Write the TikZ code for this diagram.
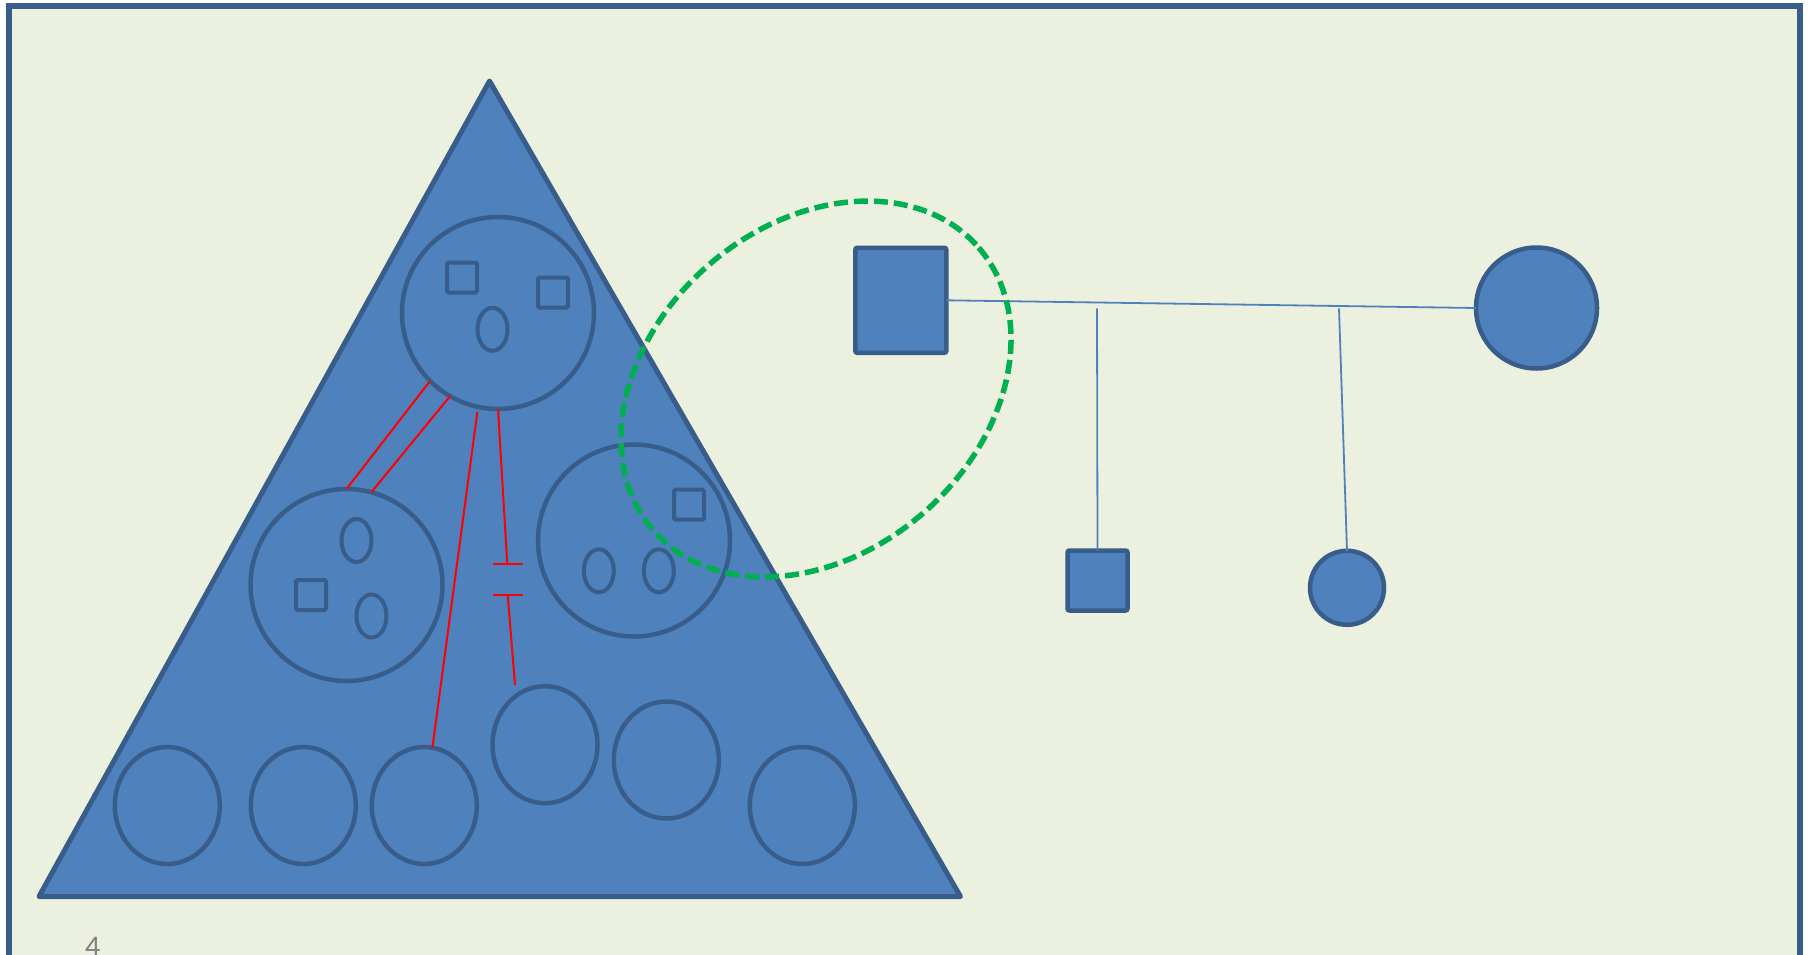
\documentclass[tikz,border=0pt]{standalone}
\usepackage{fontspec}
\setmainfont{Carlito}
\usetikzlibrary{shapes.geometric}
\definecolor{bg}{HTML}{EBF1DE}
\definecolor{nfill}{HTML}{4F81BD}
\definecolor{nline}{HTML}{385D8A}
\definecolor{gdash}{HTML}{00B050}
\definecolor{numgray}{HTML}{808080}
\begin{document}
\begin{tikzpicture}[x=1pt,y=-1pt,
 member/.style={draw=nline,fill=nfill,line width=4.5pt,inner sep=0pt,outer sep=0pt},
 bigcirc/.style={member,circle,minimum size=192pt},
 oval/.style={member,ellipse,minimum width=105pt,minimum height=117pt},
 smalloval/.style={member,ellipse,minimum width=30pt,minimum height=43pt,line width=4pt},
 smallsq/.style={member,rectangle,rounded corners=1.5pt,minimum size=30pt,line width=4pt},
 tie/.style={red,line width=2pt},
 link/.style={nfill,line width=1.8pt},
 groupring/.style={gdash,line width=5.5pt,dash pattern=on 14pt off 6pt},
]
\clip (0,0) rectangle (1812,955);
\fill[white] (0,0) rectangle (1812,955);
\draw[nline, fill=bg, line width=5.5pt] (9,5.8) rectangle (1800,1000);

% triangle
\coordinate (apex) at (489.5,81);
\coordinate (bl) at (39,896.5);
\coordinate (br) at (960.5,896.5);
\draw[member, line width=5pt, line join=round] (apex) -- (br) -- (bl) -- cycle;

% big circles
\node[bigcirc] (T) at (498,313) {};
\node[bigcirc] (L) at (346.5,585) {};
\node[bigcirc] (M) at (634,540.5) {};

% inner symbols
\node[smallsq] (t1) at (462,277.5) {};
\node[smallsq] (t2) at (553,292.5) {};
\node[smalloval] (t3) at (492.5,329.3) {};
\node[smalloval] (l1) at (356.5,540.5) {};
\node[smallsq] (l2) at (311,595) {};
\node[smalloval] (l3) at (371.5,616) {};
\node[smallsq] (m1) at (689,504.7) {};
\node[smalloval] (m2) at (598.8,570.8) {};
\node[smalloval] (m3) at (658.8,570.8) {};

% bottom ovals
\node[oval] (b1) at (167.3,805.5) {};
\node[oval] (b2) at (303.3,805.5) {};
\node[oval] (b3) at (424.3,805.5) {};
\node[oval] (b4) at (545,744.7) {};
\node[oval] (b5) at (666.3,760) {};
\node[oval] (b6) at (802.3,805.5) {};

% red ties
\coordinate (g1) at (507.3,564.3);
\coordinate (g1l) at (492.7,564.3);
\coordinate (g1r) at (522.7,564.3);
\coordinate (g2) at (507.7,595);
\coordinate (g2l) at (492.7,595);
\coordinate (g2r) at (522.7,595);
\coordinate (g4end) at (515,685);
\draw[tie] (T.225) -- (L.90);
\draw[tie] (T.240) -- (L.75);
\draw[tie, shorten <=5pt] (T.258) -- (b3.82);
\draw[tie] (T.270) -- (g1);
\draw[tie] (g1l) -- (g1r);
\draw[tie] (g2l) -- (g2r);
\draw[tie] (g2) -- (g4end);

% right side family
\node[member, rectangle, rounded corners=2pt, minimum width=91pt, minimum height=105pt] (S) at (900.8,300.3) {};
\node[member, circle, minimum size=121pt] (R) at (1536.5,308) {};
\node[member, rectangle, rounded corners=2pt, minimum width=60pt, minimum height=60pt] (Q) at (1097.5,580.5) {};
\node[member, circle, minimum size=74pt] (C) at (1347,587.8) {};
\coordinate (d1) at (1097,308.3);
\coordinate (d2) at (1339,308.3);
\draw[link] (S.east) -- (R.west);
\draw[link] (d1) -- (Q.north);
\draw[link] (d2) -- (C.north);

% green dashed ring
\draw[groupring, shift={(816,389)}, rotate=41] (0,0) ellipse [x radius=215.5, y radius=164];

% page number
\node[anchor=base west, inner sep=0pt, text=numgray, font=\fontsize{30}{36}\selectfont] (pg) at (85,956) {4};
\end{tikzpicture}
\end{document}
